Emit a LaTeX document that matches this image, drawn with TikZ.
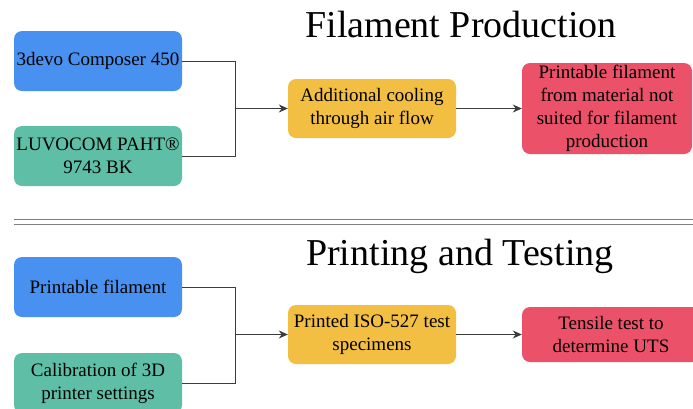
\documentclass[tikz,border=0pt]{standalone}
\usepackage{fontspec}
\setmainfont{Liberation Serif}
\usetikzlibrary{arrows.meta}
\definecolor{cblue}{RGB}{72,145,240}
\definecolor{cteal}{RGB}{94,191,166}
\definecolor{cyel}{RGB}{242,191,66}
\definecolor{cred}{RGB}{235,81,104}
\definecolor{cline}{RGB}{60,60,60}
\begin{document}
\begin{tikzpicture}[x=1pt,y=-1pt,
  box/.style={rounded corners=8pt,draw=none,align=center,inner sep=0pt,
    font=\fontsize{19}{23}\selectfont,text=black},
  conn/.style={draw=cline,line width=0.9pt},
  arr/.style={conn,-{Stealth[length=9pt,width=8pt]}},
  ttl/.style={anchor=base,font=\fontsize{38}{44}\selectfont,inner sep=0pt}]
\useasboundingbox (0,0) rectangle (693,408);
\clip (0,0) rectangle (693,408);
% titles
\node[ttl] (t1) at (461,37) {Filament Production};
\node[ttl] (t2) at (460,265) {Printing and Testing};
% separator
\draw[gray,line width=1pt] (14,219) -- (693,219);
\draw[gray,line width=1pt] (14,224) -- (693,224);
% top row
\node[box,fill=cblue,minimum width=168pt,minimum height=60pt] (b1) at (98,61) {3devo Composer 450};
\node[box,fill=cteal,minimum width=168pt,minimum height=60pt] (b2) at (98,156) {LUVOCOM PAHT®\\9743 BK};
\node[box,fill=cyel,minimum width=168pt,minimum height=59pt] (o1) at (372,108.5) {Additional cooling\\through air flow};
\node[box,fill=cred,minimum width=170pt,minimum height=91pt] (r1) at (607,108.5) {Printable filament\\from material not\\suited for filament\\production};
\coordinate (j1) at (235,108.5);
\draw[conn] (b1.east) -| (j1);
\draw[conn] (b2.east) -| (j1);
\draw[arr] (j1) -- (o1.west);
\draw[arr] (o1.east) -- (r1.west);
% bottom row
\node[box,fill=cblue,minimum width=168pt,minimum height=60pt] (b3) at (98,287) {Printable filament};
\node[box,fill=cteal,minimum width=168pt,minimum height=60pt] (b4) at (98,383) {Calibration of 3D\\printer settings};
\node[box,fill=cyel,minimum width=168pt,minimum height=59pt] (o2) at (372,334.5) {Printed ISO-527 test\\specimens};
\node[box,fill=cred,minimum width=178pt,minimum height=55pt] (r2) at (611,334.5) {Tensile test to\\determine UTS};
\coordinate (j2) at (235,334.5);
\draw[conn] (b3.east) -| (j2);
\draw[conn] (b4.east) -| (j2);
\draw[arr] (j2) -- (o2.west);
\draw[arr] (o2.east) -- (r2.west);
\end{tikzpicture}
\end{document}
